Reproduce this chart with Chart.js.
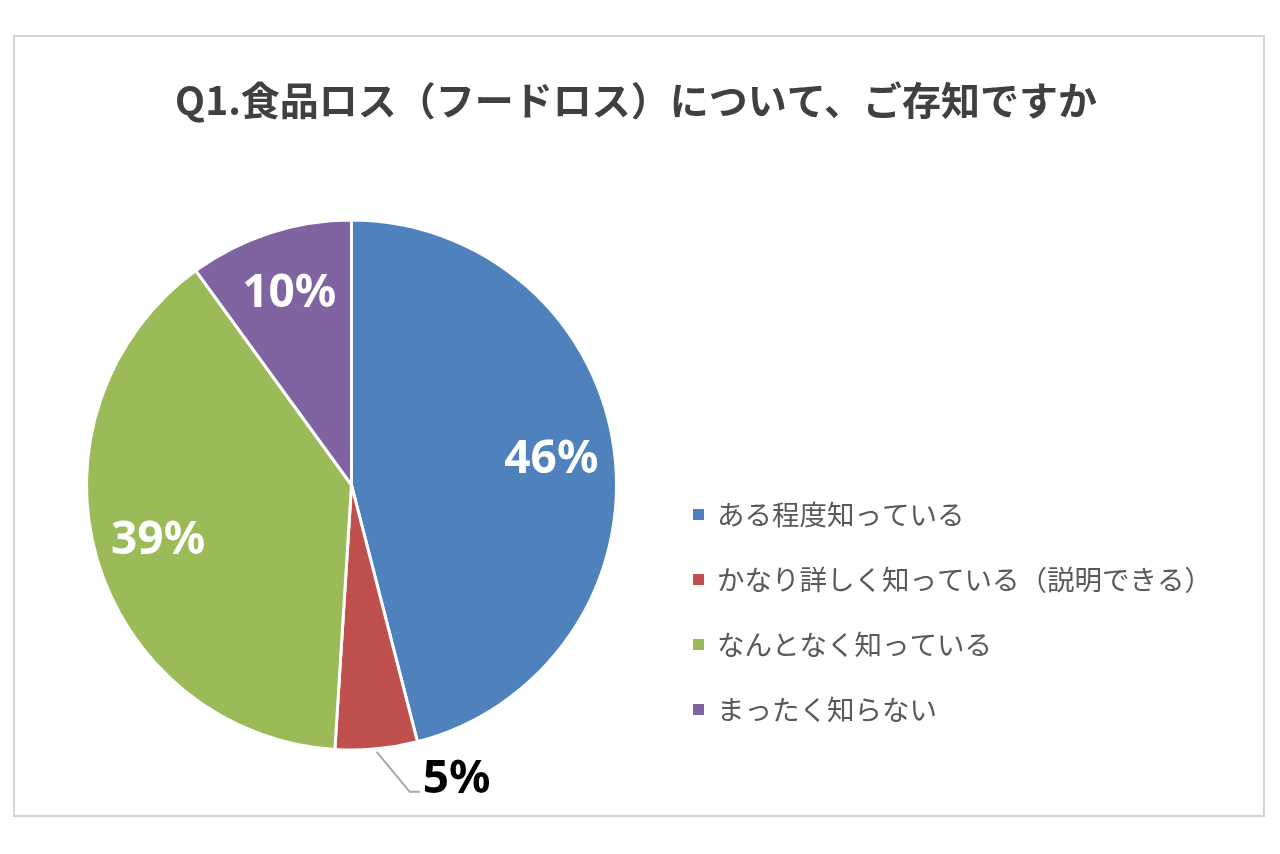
<!DOCTYPE html>
<html lang="ja">
<head>
    <meta charset="UTF-8">
    <title>Q1.食品ロス（フードロス）について、ご存知ですか</title>
    <script src="https://cdn.jsdelivr.net/npm/chart.js"></script>
    <style>
        body {
            margin: 0;
            background: #ffffff;
        }
        #wrap {
            position: relative;
            width: 1280px;
            height: 854px;
        }
        #frame {
            position: absolute;
            left: 13px;
            top: 35px;
            width: 1252px;
            height: 782px;
            border: 2px solid #d4d4d4;
            box-sizing: border-box;
        }
    </style>
</head>
<body>
    <div id="wrap">
        <div id="frame"></div>
        <canvas id="chart" width="1280" height="854"></canvas>
    </div>

    <script>
        const chartTitle = 'Q1.食品ロス（フードロス）について、ご存知ですか';
        const categories = ['ある程度知っている', 'かなり詳しく知っている（説明できる）', 'なんとなく知っている', 'まったく知らない'];
        const percentValues = [46, 5, 39, 10];
        const sliceColors = ['#4f81bd', '#c0504d', '#9bbb59', '#8064a2'];

        const jpFont = '"Noto Sans CJK JP", "Noto Sans", sans-serif';

        // labels on the slices, the small one gets a leader line outside
        const sliceLabels = {
            id: 'sliceLabels',
            afterDatasetsDraw(chart) {
                const ctx = chart.ctx;
                const arcs = chart.getDatasetMeta(0).data;
                ctx.save();
                ctx.font = 'bold 46px "Noto Sans", sans-serif';
                arcs.forEach((arc, i) => {
                    const p = arc.getProps(['x', 'y', 'startAngle', 'endAngle', 'outerRadius'], true);
                    const mid = (p.startAngle + p.endAngle) / 2;
                    const text = percentValues[i] + '%';
                    if (percentValues[i] < 8) {
                        const sx = p.x + Math.cos(mid) * (p.outerRadius + 3);
                        const sy = p.y + Math.sin(mid) * (p.outerRadius + 3);
                        const ex = sx + 33, ey = sy + 40;
                        ctx.strokeStyle = '#a6a6a6';
                        ctx.lineWidth = 2;
                        ctx.beginPath();
                        ctx.moveTo(sx, sy);
                        ctx.lineTo(ex, ey);
                        ctx.lineTo(ex + 10, ey);
                        ctx.stroke();
                        ctx.fillStyle = '#000000';
                        ctx.textAlign = 'left';
                        ctx.textBaseline = 'alphabetic';
                        ctx.fillText(text, ex + 13, ey + 1);
                    } else {
                        const r = p.outerRadius * 0.76;
                        ctx.fillStyle = '#ffffff';
                        ctx.textAlign = 'center';
                        ctx.textBaseline = 'middle';
                        ctx.fillText(text, p.x + Math.cos(mid) * r, p.y + Math.sin(mid) * r);
                    }
                });
                ctx.restore();
            }
        };

        // legend and title drawn by hand to match the layout
        const sideLegend = {
            id: 'sideLegend',
            afterDraw(chart) {
                const ctx = chart.ctx;
                ctx.save();
                ctx.fillStyle = '#404040';
                ctx.font = 'bold 39px ' + jpFont;
                ctx.textAlign = 'center';
                ctx.textBaseline = 'middle';
                ctx.fillText(chartTitle, 636, 100);

                ctx.font = '27.5px ' + jpFont;
                ctx.textAlign = 'left';
                categories.forEach((c, i) => {
                    const y = 515 + i * 65;
                    ctx.fillStyle = sliceColors[i];
                    ctx.fillRect(693, y - 6, 11, 11);
                    ctx.fillStyle = '#595959';
                    ctx.fillText(c, 717, y);
                });
                ctx.restore();
            }
        };

        new Chart(document.getElementById('chart'), {
            type: 'pie',
            data: {
                labels: categories,
                datasets: [{
                    data: percentValues,
                    backgroundColor: sliceColors,
                    borderColor: '#ffffff',
                    borderWidth: 3,
                    hoverOffset: 0
                }]
            },
            options: {
                responsive: false,
                animation: false,
                layout: {
                    padding: { left: 85, right: 662, top: 218, bottom: 102 }
                },
                plugins: {
                    legend: { display: false },
                    tooltip: { enabled: false }
                }
            },
            plugins: [sliceLabels, sideLegend]
        });
    </script>
</body>
</html>
